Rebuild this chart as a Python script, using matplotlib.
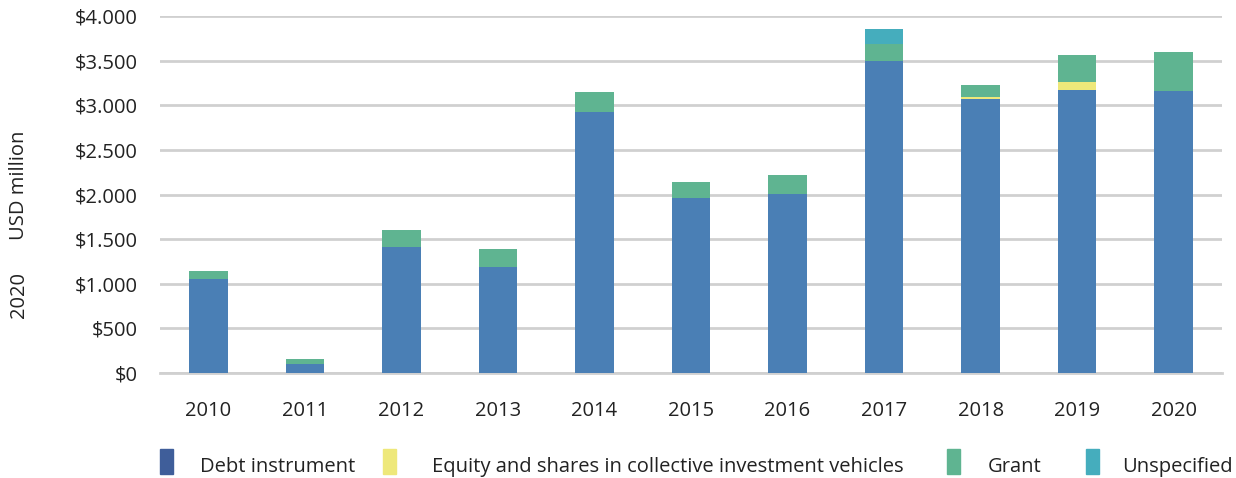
import matplotlib.pyplot as plt
from matplotlib.patches import Rectangle
import numpy as np

plt.rcParams['font.family'] = ['Open Sans', 'DejaVu Sans']

years = ["2010", "2011", "2012", "2013", "2014", "2015", "2016", "2017", "2018", "2019", "2020"]
debt = [1053, 100, 1412, 1188, 2924, 1961, 2006, 3500, 3070, 3170, 3160]
equity = [0, 0, 0, 0, 0, 0, 0, 0, 22, 90, 0]
grant = [90, 57, 190, 201, 224, 179, 212, 186, 135, 303, 437]
unspecified = [0, 0, 0, 0, 0, 0, 0, 168, 0, 0, 0]

series = ["Debt instrument", "Equity and shares in collective investment vehicles", "Grant", "Unspecified"]
bar_colors = ["#4A7FB5", "#EEE87A", "#5FB491", "#45ADBD"]
legend_colors = ["#3F5E9A", "#EEE87A", "#5FB491", "#45ADBD"]

fig = plt.figure(figsize=(12.36, 4.78), dpi=100)
ax = fig.add_axes([160 / 1236, 1 - 373 / 478, (1222 - 160) / 1236, (373 - 16) / 478])

x = np.arange(len(years))
bottom = np.zeros(len(years))
for vals, c in zip([debt, equity, grant, unspecified], bar_colors):
    ax.bar(x, vals, width=0.4, bottom=bottom, color=c, zorder=3)
    bottom += np.array(vals)

ax.set_xlim(-0.5, len(years) - 0.5)
ax.set_ylim(0, 4000)
ax.set_yticks(range(0, 4001, 500))
ax.set_yticklabels(["$0", "$500", "$1.000", "$1.500", "$2.000", "$2.500", "$3.000", "$3.500", "$4.000"])
ax.set_xticks(x)
ax.set_xticklabels(years)
ax.grid(axis="y", color="#d0d0d0", linewidth=2, zorder=0)
for s in ["top", "right", "left"]:
    ax.spines[s].set_visible(False)
ax.spines["bottom"].set_color("#d0d0d0")
ax.spines["bottom"].set_linewidth(2)
ax.tick_params(axis="both", length=0, labelsize=14.5, colors="#222222")
ax.tick_params(axis="x", pad=20)
ax.tick_params(axis="y", pad=16)

fig.text(19 / 1236, 1 - 295 / 478, "2020", rotation=90, ha="center", va="center", fontsize=14.5, color="#222222")
fig.text(19 / 1236, 1 - 185 / 478, "USD million", rotation=90, ha="center", va="center", fontsize=14.5, color="#222222")

# legend drawn by hand
sw_x = [160, 383, 947, 1086]
tx_x = [200, 432, 988, 1122]
for name, c, sx, tx in zip(series, legend_colors, sw_x, tx_x):
    fig.add_artist(Rectangle((sx / 1236, 1 - 474 / 478), 13 / 1236, 25 / 478,
                             transform=fig.transFigure, color=c))
    fig.text(tx / 1236, 1 - 467 / 478, name, ha="left", va="center", fontsize=14.5, color="#222222")

fig.savefig("out.png", dpi=100)
